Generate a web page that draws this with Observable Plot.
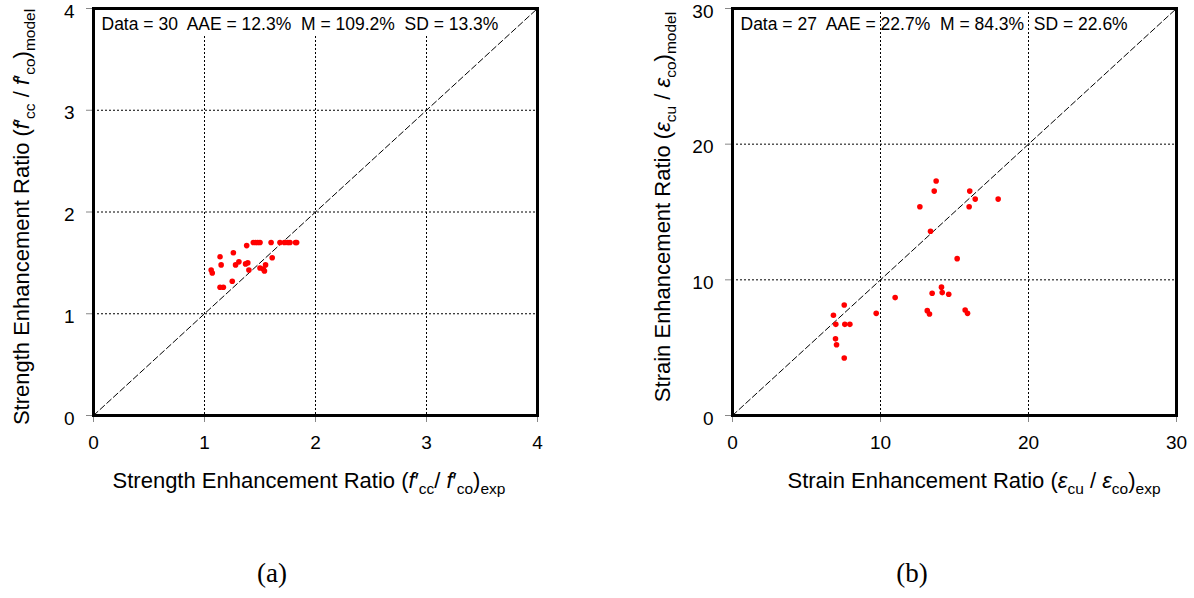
<!DOCTYPE html>
<html><head><meta charset="utf-8">
<script src="https://cdn.jsdelivr.net/npm/d3@7"></script>
<script src="https://cdn.jsdelivr.net/npm/@observablehq/plot@0.6"></script>
<style>
html,body{margin:0;padding:0;background:#fff;}
#page{position:relative;width:1194px;height:598px;overflow:hidden;font-family:"Liberation Sans",Arial,sans-serif;background:#fff;}
#page svg{position:absolute;top:0;}
</style></head><body><div id="page"></div>
<script>
// ---- Panel (a): strength enhancement ratio ----
const strengthExp = [1.06,1.07,1.14,1.15,1.14,1.17,1.26,1.28,1.31,1.25,1.38,1.37,1.39,1.40,1.44,1.48,1.50,1.50,1.53,1.54,1.55,1.60,1.61,1.68,1.72,1.77,1.82,1.83,1.46,1.75];
const strengthModel = [1.43,1.40,1.56,1.48,1.26,1.26,1.60,1.48,1.51,1.32,1.67,1.49,1.50,1.43,1.70,1.70,1.70,1.45,1.44,1.42,1.48,1.70,1.55,1.70,1.70,1.70,1.70,1.70,1.70,1.70];
const strengthTicks = [0,1,2,3,4];
const strengthStats = "Data = 30  AAE = 12.3%  M = 109.2%  SD = 13.3%";

// ---- Panel (b): strain enhancement ratio ----
const strainExp = [13.76,13.63,12.66,16.03,16.40,17.95,15.99,13.38,15.18,14.12,13.49,14.17,14.61,10.99,9.71,7.55,6.82,6.98,7.59,7.93,6.96,7.03,7.55,13.16,13.31,15.72,15.88];
const strainModel = [17.28,16.54,15.39,16.54,15.95,15.95,15.39,13.58,11.56,9.46,9.01,9.06,8.94,8.69,7.53,8.15,7.39,6.72,6.72,6.72,5.65,5.21,4.24,7.73,7.48,7.78,7.53];
const strainTicks = [0,10,20,30];
const strainStats = "Data = 27  AAE = 22.7%  M = 84.3%  SD = 22.6%";

const panelLabels = ["(a)", "(b)"];

const FONT = '"Liberation Sans", Arial, sans-serif';
const page = document.getElementById("page");

function richText(sel, parts) {
  let shift = 0;
  for (const p of parts) {
    const want = p.sub ? 6 : 0;
    const ts = sel.append("tspan").text(p.t);
    if (want !== shift) { ts.attr("dy", want - shift); shift = want; }
    if (p.sub) ts.attr("font-size", 15.5);
    if (p.i) ts.attr("font-style", "italic");
  }
}

function panel({xs, ys, ticks, stats, left, mLeft, mRight, yLabel, xLabel, xLabelX, yLabelX, yLabelY, caption, captionX, statsBg}) {
  const data = xs.map((x, i) => ({x, y: ys[i]}));
  const dom = [ticks[0], ticks[ticks.length - 1]];
  const inner = ticks.slice(1, -1);
  const W = 597, H = 598, mTop = 8, mBottom = 183;
  const svg = Plot.plot({
    width: W, height: H,
    marginLeft: mLeft, marginRight: mRight, marginTop: mTop, marginBottom: mBottom,
    style: {fontFamily: FONT, fontSize: "19px", background: "white", overflow: "visible", color: "black"},
    x: {domain: dom, ticks: ticks},
    y: {domain: dom, ticks: ticks},
    marks: [
      Plot.ruleX(inner, {stroke: "black", strokeWidth: 1, strokeDasharray: "2,2"}),
      Plot.ruleY(inner, {stroke: "black", strokeWidth: 1, strokeDasharray: "2,2"}),
      Plot.line(dom.map(v => ({v})), {x: "v", y: "v", stroke: "black", strokeWidth: 1, strokeDasharray: "6,3"}),
      Plot.dot(data, {x: "x", y: "y", r: 2.8, fill: "red", stroke: "none"}),
      Plot.axisX(ticks, {tickSize: 7, tickPadding: 13, stroke: "#888", fill: "black", fontSize: 19, label: null, tickFormat: d => String(d)}),
      Plot.axisY(ticks, {tickSize: 7, tickPadding: 12, stroke: "#888", fill: "black", fontSize: 19, label: null, tickFormat: d => String(d)}),
      Plot.frame({stroke: "black", strokeWidth: 3})
    ]
  });
  svg.style.left = left + "px";
  page.appendChild(svg);
  const s = d3.select(svg);
  // nudge y tick labels slightly down, as in the reference
  s.selectAll('g[aria-label="y-axis tick label"]').each(function () {
    const g = d3.select(this);
    const tr = g.attr("transform") || "";
    g.attr("transform", `translate(0,3) ${tr}`);
  });
  // stats annotation
  const st = s.append("text").attr("x", mLeft + 8.5).attr("y", 30)
    .attr("text-anchor", "start")
    .attr("font-size", 17.5).attr("fill", "black").attr("font-family", FONT)
    .attr("xml:space", "preserve").style("white-space", "pre").text(stats);
  if (statsBg) {
    const bb = st.node().getBBox();
    s.insert("rect", () => st.node())
      .attr("x", mLeft + 2).attr("y", mTop + 2)
      .attr("width", bb.x + bb.width + 2 - (mLeft + 2))
      .attr("height", bb.y + bb.height + 1 - (mTop + 2))
      .attr("fill", "white");
  }
  // y label
  const yl = s.append("text").attr("transform", `translate(${yLabelX},${yLabelY}) rotate(-90)`)
    .attr("text-anchor", "middle").attr("font-size", 22).attr("font-family", FONT).attr("fill", "black");
  richText(yl, yLabel);
  // x label
  const xl = s.append("text").attr("x", xLabelX).attr("y", 488)
    .attr("text-anchor", "middle").attr("font-size", 22).attr("font-family", FONT).attr("fill", "black");
  richText(xl, xLabel);
  // caption
  s.append("text").attr("x", captionX).attr("y", 582).attr("text-anchor", "middle")
    .attr("font-family", '"Liberation Serif", "Times New Roman", serif').attr("font-size", 27)
    .attr("fill", "black").text(caption);
  return svg;
}

panel({
  xs: strengthExp, ys: strengthModel, ticks: strengthTicks, stats: strengthStats,
  left: 0, mLeft: 93, mRight: 60, statsBg: true,
  yLabelX: 29, yLabelY: 217, xLabelX: 309, captionX: 272, caption: panelLabels[0],
  yLabel: [{t: "Strength Enhancement Ratio ("}, {t: "f", i: true}, {t: "′"}, {t: "cc", sub: true}, {t: " / "}, {t: "f", i: true}, {t: "′"}, {t: "co", sub: true}, {t: ")"}, {t: "model", sub: true}],
  xLabel: [{t: "Strength Enhancement Ratio ("}, {t: "f", i: true}, {t: "′"}, {t: "cc", sub: true}, {t: "/ "}, {t: "f", i: true}, {t: "′"}, {t: "co", sub: true}, {t: ")"}, {t: "exp", sub: true}]
});

panel({
  xs: strainExp, ys: strainModel, ticks: strainTicks, stats: strainStats,
  left: 597, mLeft: 135, mRight: 18, statsBg: false,
  yLabelX: 670 - 597, yLabelY: 207, xLabelX: 974 - 597, captionX: 912 - 597, caption: panelLabels[1],
  yLabel: [{t: "Strain Enhancement Ratio ("}, {t: "ε", i: true}, {t: "cu", sub: true}, {t: " / "}, {t: "ε", i: true}, {t: "co", sub: true}, {t: ")"}, {t: "model", sub: true}],
  xLabel: [{t: "Strain Enhancement Ratio ("}, {t: "ε", i: true}, {t: "cu", sub: true}, {t: " / "}, {t: "ε", i: true}, {t: "co", sub: true}, {t: ")"}, {t: "exp", sub: true}]
});
</script></body></html>
